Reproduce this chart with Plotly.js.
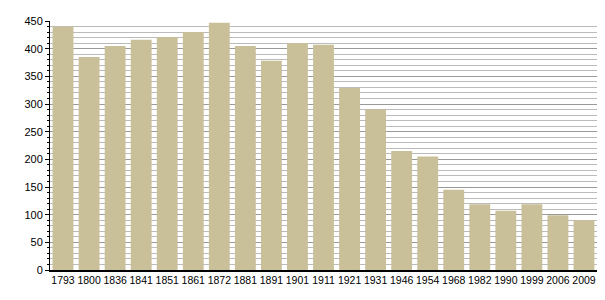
<!DOCTYPE html>
<html><head><meta charset="utf-8">
<script src="https://cdn.plot.ly/plotly-3.0.1.min.js"></script>
<style>html,body{margin:0;padding:0;background:#fff}</style>
</head><body><div id="chart" style="width:605px;height:300px"></div>
<script>
const years = ["1793","1800","1836","1841","1851","1861","1872","1881","1891","1901","1911","1921","1931","1946","1954","1968","1982","1990","1999","2006","2009"];
const population = [440,385,405,416,421,430,447,405,378,410,407,329,290,215,205,145,119,107,119,99,90];
const yTicks = [0,50,100,150,200,250,300,350,400,450];

Plotly.newPlot('chart', [{
  type:'bar', x: years, y: population,
  marker:{color:'#c9bf99', line:{width:0}},
  hoverinfo:'x+y'
}], {
  width:605, height:300,
  margin:{l:50,r:8,t:21,b:30},
  paper_bgcolor:'#fff', plot_bgcolor:'#fff',
  bargap:0.2,
  font:{family:'Liberation Sans, Arial, sans-serif', size:11, color:'#000'},
  xaxis:{type:'category', showline:true, linecolor:'#000', linewidth:1.5, ticks:'', showgrid:false, tickangle:0, automargin:false, tickfont:{size:10.5}},
  yaxis:{range:[0,450], tickvals:yTicks, ticktext:yTicks.map(String), showline:true, linecolor:'#000', linewidth:1,
    ticks:'outside', ticklen:4, tickcolor:'#000', showgrid:true, gridcolor:'#999', gridwidth:1, zeroline:false,
    minor:{dtick:10, tick0:0, ticks:'outside', ticklen:2, tickcolor:'#000', showgrid:true, gridcolor:'#bbb', gridwidth:1}},
  showlegend:false
}, {displayModeBar:false, staticPlot:true});
</script></body></html>
